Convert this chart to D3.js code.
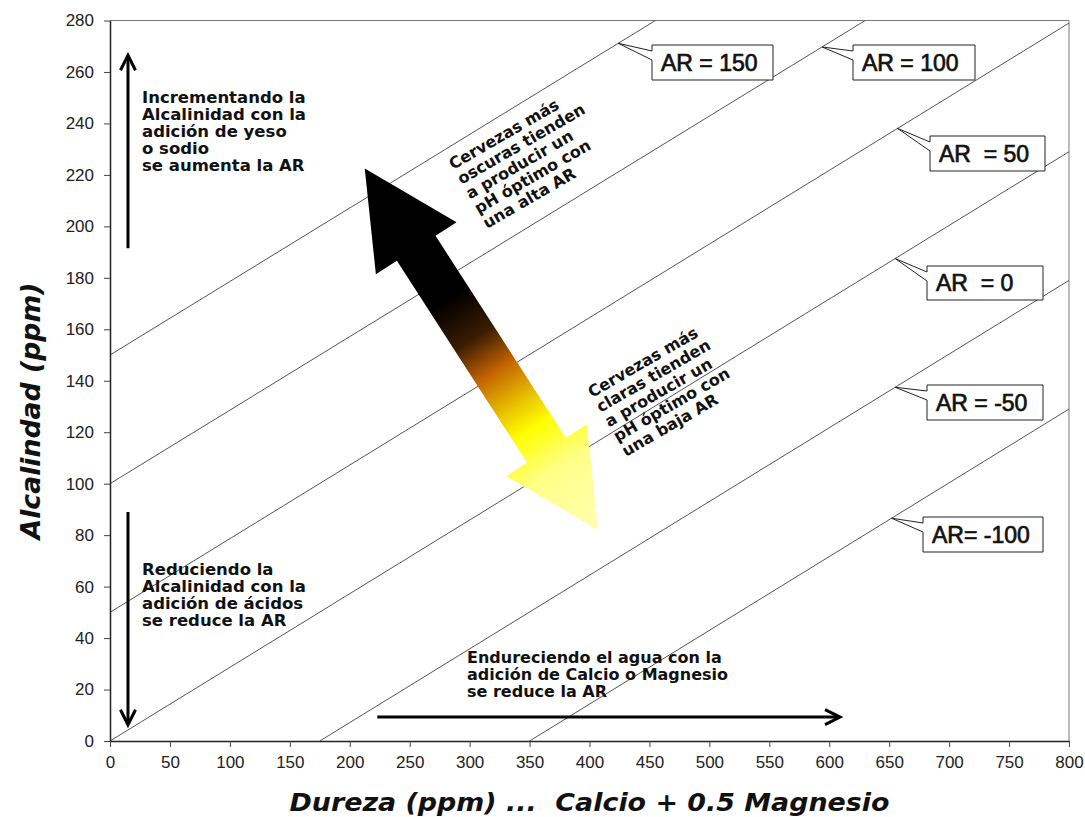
<!DOCTYPE html>
<html>
<head>
<meta charset="utf-8">
<script src="https://cdn.jsdelivr.net/npm/d3@7"></script>
<style>
  body { margin: 0; background: #fff; }
  svg { display: block; }
</style>
</head>
<body>
<div id="chart"></div>
<script>
// Axis ticks
const xTicks = [0, 50, 100, 150, 200, 250, 300, 350, 400, 450, 500, 550, 600, 650, 700, 750, 800];
const yTicks = [0, 20, 40, 60, 80, 100, 120, 140, 160, 180, 200, 220, 240, 260, 280];

// AR lines: end points (hardness, alkalinity)
const arValues = [150, 100, 50, 0, -50, -100];
const arStart = [[0, 150], [0, 100], [0, 50], [0, 0], [175, 0], [350, 0]];
const arEnd = [[455, 280], [630, 280], [800, 279], [800, 229], [800, 179], [800, 129]];

// Callout labels and where each pointer touches its line (hardness)
const arLabels = ['AR = 150', 'AR = 100', 'AR  = 50', 'AR  = 0', 'AR = -50', 'AR= -100'];
const arTipH = [424, 594, 657, 655, 655, 652];

// Annotation texts
const upText = ['Incrementando la', 'Alcalinidad con la', 'adición de yeso', 'o sodio', 'se aumenta la AR'];
const downText = ['Reduciendo la', 'Alcalinidad con la', 'adición de ácidos', 'se reduce la AR'];
const rightText = ['Endureciendo el agua con la', 'adición de Calcio o Magnesio', 'se reduce la AR'];
const darkText = ['Cervezas más', 'oscuras tienden', 'a producir un', 'pH óptimo con', 'una alta AR'];
const lightText = ['Cervezas más', 'claras tienden', 'a producir un', 'pH óptimo con', 'una baja AR'];

// Arrow end points in data units [hardness, alkalinity]
const upArrow = [[15, 191.5], [15, 266.5]];
const downArrow = [[15, 89], [15, 6.3]];
const rightArrow = [[223, 9.3], [609, 9.3]];
const bigArrow = [[212.5, 222.5], [407, 82]];

const W = 1085, H = 817;
const svg = d3.select('#chart').append('svg')
  .attr('width', W)
  .attr('height', H);

const x = d3.scaleLinear().domain([0, 800]).range([110, 1069]);
const y = d3.scaleLinear().domain([0, 280]).range([741, 20.5]);

const sansFont = '"Liberation Sans", Arial, sans-serif';
const boldFont = '"DejaVu Sans", Verdana, sans-serif';

// frame: top and right borders
svg.append('line')
  .attr('x1', x(0)).attr('x2', x(800))
  .attr('y1', y(280)).attr('y2', y(280))
  .attr('stroke', '#777').attr('stroke-width', 1);
svg.append('line')
  .attr('x1', x(800)).attr('x2', x(800))
  .attr('y1', y(0)).attr('y2', y(280))
  .attr('stroke', '#777').attr('stroke-width', 1);

// AR lines
const lineGen = d3.line().x(d => x(d[0])).y(d => y(d[1]));
svg.append('g')
  .selectAll('path')
  .data(arValues.map((v, i) => [arStart[i], arEnd[i]]))
  .join('path')
  .attr('d', lineGen)
  .attr('fill', 'none')
  .attr('stroke', '#555')
  .attr('stroke-width', 1);

// axes
const yAxis = svg.append('g')
  .attr('transform', `translate(${x(0)},0)`)
  .call(d3.axisLeft(y).tickValues(yTicks).tickSize(6).tickSizeOuter(0).tickPadding(10));
const xAxis = svg.append('g')
  .attr('transform', `translate(0,${y(0)})`)
  .call(d3.axisBottom(x).tickValues(xTicks).tickSize(6).tickSizeOuter(0).tickPadding(9));

[xAxis, yAxis].forEach(g => {
  g.select('.domain').attr('stroke', '#222').attr('stroke-width', 1.5);
  g.selectAll('.tick line').attr('stroke', '#444');
  g.selectAll('.tick text')
    .attr('fill', '#222')
    .style('font-family', sansFont)
    .style('font-size', '17px');
});

// axis titles
svg.append('text')
  .attr('transform', 'translate(40,411) rotate(-90)')
  .attr('text-anchor', 'middle')
  .attr('textLength', 257)
  .attr('lengthAdjust', 'spacingAndGlyphs')
  .style('font-family', boldFont)
  .style('font-weight', 'bold')
  .style('font-style', 'italic')
  .style('font-size', '26px')
  .attr('fill', '#111')
  .text('Alcalindad (ppm)');

svg.append('text')
  .attr('x', (x(0) + x(800)) / 2)
  .attr('y', 811)
  .attr('text-anchor', 'middle')
  .attr('xml:space', 'preserve')
  .attr('textLength', 600)
  .attr('lengthAdjust', 'spacingAndGlyphs')
  .style('white-space', 'pre')
  .style('font-family', boldFont)
  .style('font-weight', 'bold')
  .style('font-style', 'italic')
  .style('font-size', '25px')
  .attr('fill', '#111')
  .text('Dureza (ppm) ...  Calcio + 0.5 Magnesio');

// callouts
const boxes = [
  { bx: 652, by: 45, bw: 121, bh: 35 },
  { bx: 853, by: 45, bw: 122, bh: 35 },
  { bx: 930, by: 136, bw: 115, bh: 35 },
  { bx: 927, by: 266, bw: 116, bh: 34 },
  { bx: 927, by: 385, bw: 116, bh: 35 },
  { bx: 923, by: 517, bw: 120, bh: 35 }
];

function alkOnLine(i, h) {
  const [h0, a0] = arStart[i], [h1, a1] = arEnd[i];
  return a0 + (a1 - a0) * (h - h0) / (h1 - h0);
}

const callouts = svg.append('g');
arLabels.forEach((label, i) => {
  const b = boxes[i];
  const tx = x(arTipH[i]), ty = y(alkOnLine(i, arTipH[i]));
  const p = d3.path();
  p.moveTo(tx, ty);
  p.lineTo(b.bx, b.by + 6);
  p.lineTo(b.bx, b.by);
  p.lineTo(b.bx + b.bw, b.by);
  p.lineTo(b.bx + b.bw, b.by + b.bh);
  p.lineTo(b.bx, b.by + b.bh);
  p.lineTo(b.bx, b.by + 15);
  p.closePath();
  callouts.append('path')
    .attr('d', p.toString())
    .attr('fill', '#fff')
    .attr('stroke', '#222')
    .attr('stroke-width', 1);
  callouts.append('text')
    .attr('x', b.bx + 9)
    .attr('y', b.by + b.bh / 2 + 8)
    .attr('xml:space', 'preserve')
    .style('white-space', 'pre')
    .style('font-family', sansFont)
    .style('font-size', '23px')
    .attr('fill', '#111')
    .attr('stroke', '#111')
    .attr('stroke-width', 0.7)
    .text(label);
});

// multi-line text block helper
function textBlock(lines, tx, ty, angle, size, lh) {
  const t = svg.append('text')
    .attr('transform', `translate(${tx},${ty}) rotate(${angle})`)
    .style('font-family', boldFont)
    .style('font-weight', 'bold')
    .style('font-size', size + 'px')
    .attr('fill', '#111');
  lines.forEach((s, i) => {
    t.append('tspan').attr('x', 0).attr('y', i * lh).text(s);
  });
}

textBlock(upText, 142, 103, 0, 16.5, 17);
textBlock(downText, 142, 575, 0, 16.5, 17);
textBlock(rightText, 467, 663, 0, 16, 17);
textBlock(darkText, 453, 170, -30, 16, 17);
textBlock(lightText, 592, 398, -30, 16, 17);

// thin arrows with chevron heads
function chevronArrow(pts) {
  const [p0, p1] = pts.map(d => [x(d[0]), y(d[1])]);
  const dx = p1[0] - p0[0], dy = p1[1] - p0[1];
  const len = Math.hypot(dx, dy);
  const ux = dx / len, uy = dy / len;
  const nx = -uy, ny = ux;
  const g = svg.append('g')
    .attr('stroke', '#000')
    .attr('fill', 'none')
    .attr('stroke-width', 3);
  g.append('line')
    .attr('x1', p0[0]).attr('y1', p0[1])
    .attr('x2', p1[0] - ux * 2).attr('y2', p1[1] - uy * 2);
  g.append('path')
    .attr('stroke-linejoin', 'miter')
    .attr('d', `M${p1[0] - ux * 15 + nx * 7.5},${p1[1] - uy * 15 + ny * 7.5}
      L${p1[0]},${p1[1]}
      L${p1[0] - ux * 15 - nx * 7.5},${p1[1] - uy * 15 - ny * 7.5}`);
}
chevronArrow(upArrow);
chevronArrow(downArrow);
chevronArrow(rightArrow);

// big gradient double arrow
const [a0, a1] = bigArrow.map(d => [x(d[0]), y(d[1])]);
const defs = svg.append('defs');
const grad = defs.append('linearGradient')
  .attr('id', 'beerGrad')
  .attr('gradientUnits', 'userSpaceOnUse')
  .attr('x1', a0[0]).attr('y1', a0[1])
  .attr('x2', a1[0]).attr('y2', a1[1]);
[[0, '#000000'], [0.36, '#000000'], [0.47, '#3c1c02'], [0.56, '#c46400'],
 [0.65, '#e8c000'], [0.72, '#ffff00'], [0.83, '#ffff88'], [1, '#ffffb0']]
  .forEach(s => grad.append('stop').attr('offset', s[0]).attr('stop-color', s[1]));

{
  const dx = a1[0] - a0[0], dy = a1[1] - a0[1];
  const len = Math.hypot(dx, dy);
  const ux = dx / len, uy = dy / len;
  const nx = -uy, ny = ux;
  const hl = 95, hw = 48, sw = 23;
  const pt = (p, u, n) => [p[0] + ux * u + nx * n, p[1] + uy * u + ny * n];
  const poly = [
    a0,
    pt(a0, hl, hw), pt(a0, hl, sw),
    pt(a1, -hl, sw), pt(a1, -hl, hw),
    a1,
    pt(a1, -hl, -hw), pt(a1, -hl, -sw),
    pt(a0, hl, -sw), pt(a0, hl, -hw)
  ];
  svg.append('polygon')
    .attr('points', poly.map(p => p.join(',')).join(' '))
    .attr('fill', 'url(#beerGrad)');
}
</script>
</body>
</html>
